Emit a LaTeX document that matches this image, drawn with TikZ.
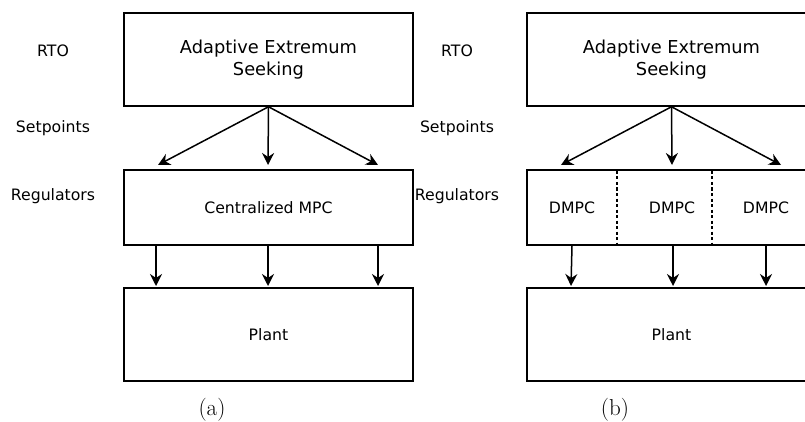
\documentclass[tikz,border=0pt]{standalone}
\usepackage{fontspec}
\setsansfont{DejaVu Sans}
\usetikzlibrary{arrows.meta}
\tikzset{
  blk/.style={draw, line width=1.5pt, rectangle, inner sep=0pt, align=center,
    font=\sffamily\fontsize{15.7}{19}\selectfont},
  bigtxt/.style={font=\sffamily\fontsize{17.8}{22.5}\selectfont},
  lbl/.style={font=\sffamily\fontsize{15.7}{19}\selectfont, inner sep=0pt},
  captxt/.style={font=\fontsize{23}{27}\selectfont, inner sep=0pt},
  arr/.style={line width=1.5pt, -{Stealth[length=12pt,width=12pt,inset=4pt]}},
  sep/.style={line width=1.3pt, dash pattern=on 3pt off 2.5pt}
}
\begin{document}
\begin{tikzpicture}[x=1pt,y=-1pt]
\useasboundingbox (0,0) rectangle (805,422);
\clip (0,0) rectangle (805,422);
% ---------- panel (a) ----------
\node[blk, bigtxt, minimum width=289pt, minimum height=93pt] (ta) at (268.5,59.5) {Adaptive Extremum\\Seeking};
\node[blk, minimum width=289pt, minimum height=75pt] (ma) at (268.5,207.5) {Centralized MPC};
\node[blk, minimum width=289pt, minimum height=93pt] (pa) at (268.5,334.5) {Plant};
\node[lbl] (rtoa) at (53,51) {RTO};
\node[lbl] (spa) at (53,128.5) {Setpoints};
\node[lbl] (rga) at (53,196.5) {Regulators};
\node[captxt] (capa) at (212,409.5) {(a)};
\coordinate (a1) at (158,165);
\coordinate (a2) at (268,165);
\coordinate (a3) at (378,165);
\draw[arr] (ta.south) -- (a1);
\draw[arr] (ta.south) -- (a2);
\draw[arr] (ta.south) -- (a3);
\coordinate (ab1) at (156,245.75);
\coordinate (ab2) at (268,245.75);
\coordinate (ab3) at (378,245.75);
\coordinate (ae1) at (156,286);
\coordinate (ae2) at (268,286);
\coordinate (ae3) at (378,286);
\draw[arr] (ab1) -- (ae1);
\draw[arr] (ab2) -- (ae2);
\draw[arr] (ab3) -- (ae3);
% ---------- panel (b) ----------
\node[blk, bigtxt, minimum width=289pt, minimum height=93pt] (tb) at (671.5,59.5) {Adaptive Extremum\\Seeking};
\node[blk, minimum width=289pt, minimum height=75pt] (mb) at (671.5,207.5) {};
\node[blk, minimum width=289pt, minimum height=93pt] (pb) at (671.5,334.5) {Plant};
\node[lbl] (rtob) at (457,51) {RTO};
\node[lbl] (spb) at (457,128.5) {Setpoints};
\node[lbl] (rgb) at (457,196.5) {Regulators};
\node[captxt] (capb) at (615,409.5) {(b)};
\node[lbl] (d1) at (572,207.5) {DMPC};
\node[lbl] (d2) at (672,207.5) {DMPC};
\node[lbl] (d3) at (766,207.5) {DMPC};
\coordinate (s1t) at (617,171);
\coordinate (s1b) at (617,244);
\coordinate (s2t) at (712,171);
\coordinate (s2b) at (712,244);
\draw[sep] (s1t) -- (s1b);
\draw[sep] (s2t) -- (s2b);
\coordinate (b1) at (561,165);
\coordinate (b2) at (672,165);
\coordinate (b3) at (781,165);
\draw[arr] (tb.south) -- (b1);
\draw[arr] (tb.south) -- (b2);
\draw[arr] (tb.south) -- (b3);
\coordinate (bb1) at (572,245.75);
\coordinate (bb2) at (673,245.75);
\coordinate (bb3) at (766,245.75);
\coordinate (be1) at (571,286);
\coordinate (be2) at (673,286);
\coordinate (be3) at (766,286);
\draw[arr] (bb1) -- (be1);
\draw[arr] (bb2) -- (be2);
\draw[arr] (bb3) -- (be3);
\end{tikzpicture}
\end{document}
